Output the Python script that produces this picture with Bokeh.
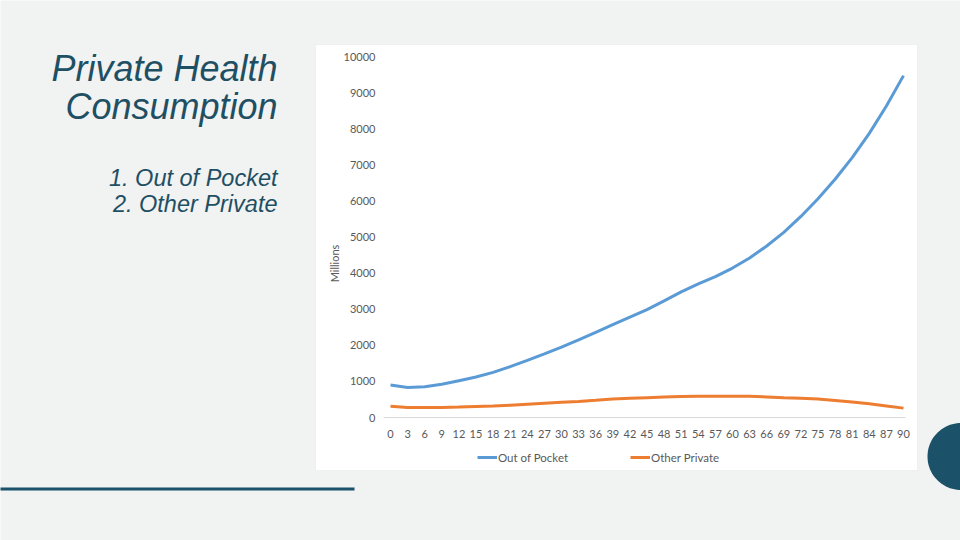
import numpy as np
from bokeh.plotting import figure
from bokeh.models import (Range1d, FixedTicker, BoxAnnotation, PolyAnnotation,
                          Label, Legend, LegendItem)
from bokeh.embed import file_html
from bokeh.resources import INLINE

# ---- data ----
ages = list(range(0, 91, 3))
out_of_pocket = [900, 830, 850, 920, 1020, 1120, 1250, 1410, 1580, 1760, 1950,
                 2150, 2360, 2570, 2780, 2990, 3230, 3480, 3700, 3900, 4140,
                 4420, 4750, 5130, 5570, 6060, 6600, 7200, 7870, 8630, 9470]
other_private = [310, 280, 275, 280, 290, 305, 320, 340, 370, 395, 420,
                 445, 475, 510, 530, 550, 565, 580, 590, 592, 592,
                 590, 570, 550, 535, 510, 470, 430, 380, 320, 260]
x_ticks = list(range(0, 91, 3))
y_ticks = list(range(0, 10001, 1000))
series_names = ["Out of Pocket", "Other Private"]
title_lines = ["Private Health", "Consumption"]
item_lines = ["1. Out of Pocket", "2. Other Private"]

# ---- layout (canvas pixels) ----
W, H = 960, 540
X0_PX, X90_PX = 390.0, 903.0      # where x=0 and x=90 sit
Y0_PX, Y10K_PX = 417.0, 56.0      # where y=0 and y=10000 sit (from top)
sx = (X90_PX - X0_PX) / 90.0
sy = (Y0_PX - Y10K_PX) / 10000.0
x_start, x_end = -X0_PX / sx, (W - X0_PX) / sx
y_start, y_end = -(H - Y0_PX) / sy, Y0_PX / sy

BG = "#f1f2f2"
TEAL = "#1b5169"
TITLE_C = "#1f4f63"
TXT = "#595959"
FONT = "Lato"

p = figure(width=W, height=H, output_backend="svg", toolbar_location=None,
           x_range=Range1d(x_start, x_end), y_range=Range1d(y_start, y_end),
           min_border=0)
p.min_border_left = p.min_border_right = p.min_border_top = p.min_border_bottom = 0
p.background_fill_color = BG
p.border_fill_color = BG
p.outline_line_color = None
p.xgrid.visible = False
p.ygrid.visible = False


def H_(y_top):  # convert a top-based pixel y into bottom-based screen y
    return H - y_top


# decorations (screen units from canvas bottom-left)
panel = BoxAnnotation(left=315, right=917, top=H_(44), bottom=H_(470),
                      left_units="screen", right_units="screen",
                      top_units="screen", bottom_units="screen",
                      fill_color="white", fill_alpha=1.0,
                      line_color="#d9d9d9", line_width=1, level="underlay")
p.add_layout(panel)

bar = BoxAnnotation(left=-2, right=354, top=H_(487), bottom=H_(490),
                    left_units="screen", right_units="screen",
                    top_units="screen", bottom_units="screen",
                    fill_color=TEAL, fill_alpha=1.0, line_color=None)
p.add_layout(bar)

t = np.linspace(0, 2 * np.pi, 90)
circ = PolyAnnotation(xs=list(960.5 + 33.5 * np.cos(t)), ys=list(H_(456) + 33.5 * np.sin(t)),
                      xs_units="screen", ys_units="screen",
                      fill_color=TEAL, fill_alpha=1.0, line_color=None)
p.add_layout(circ)

# series
r1 = p.line(ages, out_of_pocket, line_color="#5b9bd5", line_width=3)
r2 = p.line(ages, other_private, line_color="#ed7d31", line_width=3)

# axes, fixed inside the canvas
p.xaxis.fixed_location = 0
p.xaxis.bounds = ((383 - X0_PX) / sx, (905 - X0_PX) / sx)
p.yaxis.fixed_location = (384 - X0_PX) / sx
p.yaxis.bounds = (0, 10000)
p.xaxis.ticker = FixedTicker(ticks=x_ticks)
p.yaxis.ticker = FixedTicker(ticks=y_ticks)
for ax in (p.xaxis[0], p.yaxis[0]):
    ax.major_tick_line_color = None
    ax.minor_tick_line_color = None
    ax.major_label_text_font = FONT
    ax.major_label_text_font_size = "11px"
    ax.major_label_text_color = TXT
p.xaxis.axis_line_color = "#d9d9d9"
p.yaxis.axis_line_color = None
p.xaxis.major_label_standoff = 6
p.yaxis.major_label_standoff = 3

p.add_layout(Label(x=334, y=H_(263), x_units="screen", y_units="screen",
                   text="Millions", angle=np.pi / 2, text_align="center",
                   text_baseline="middle", text_font=FONT,
                   text_font_size="11px", text_color=TXT))

# legend
legend = Legend(items=[LegendItem(label=series_names[0], renderers=[r1]),
                       LegendItem(label=series_names[1], renderers=[r2])],
                orientation="horizontal", location=(477, H_(464)),
                glyph_width=20, glyph_height=14, label_height=14,
                label_standoff=1, spacing=62, padding=0, margin=0,
                label_text_font=FONT, label_text_font_size="11.5px",
                label_text_color=TXT, background_fill_alpha=0,
                border_line_color=None)
p.add_layout(legend)

# title text
for txt, y in zip(title_lines, [68, 106]):
    p.add_layout(Label(x=277, y=H_(y), x_units="screen", y_units="screen", text=txt,
                       text_align="right", text_baseline="alphabetic",
                       text_font="Liberation Sans", text_font_style="italic",
                       text_font_size="36px", text_color=TITLE_C))
for txt, y in zip(item_lines, [177, 203]):
    p.add_layout(Label(x=277, y=H_(y), x_units="screen", y_units="screen", text=txt,
                       text_align="right", text_baseline="alphabetic",
                       text_font="Liberation Sans", text_font_style="italic",
                       text_font_size="23.5px", text_color=TITLE_C))

open("out.html", "w").write(file_html(p, INLINE))
